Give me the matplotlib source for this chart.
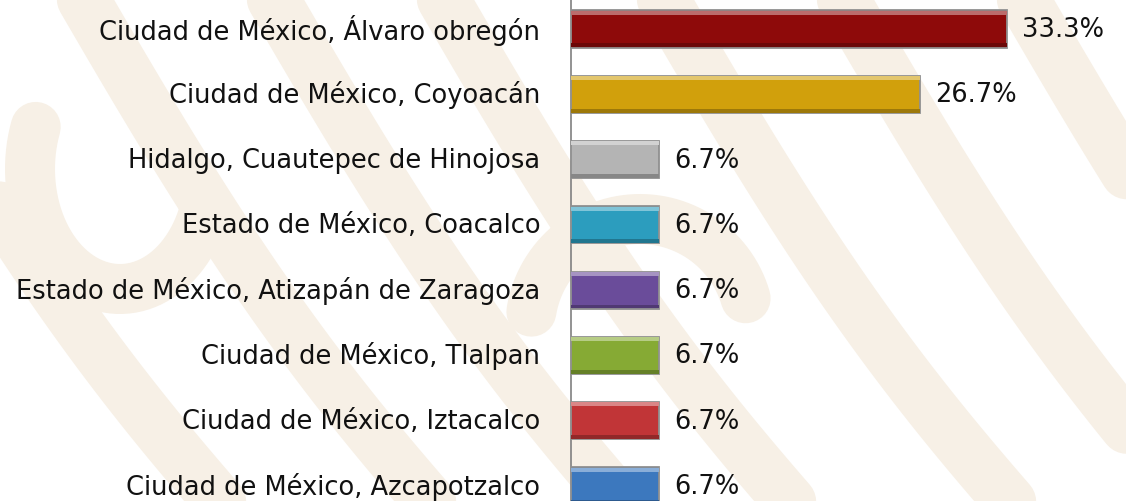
import matplotlib.pyplot as plt
import matplotlib.colors as mcolors
import matplotlib.transforms as mtransforms
import numpy as np

labels = [
    "Ciudad de México, Álvaro obregón",
    "Ciudad de México, Coyoacán",
    "Hidalgo, Cuautepec de Hinojosa",
    "Estado de México, Coacalco",
    "Estado de México, Atizapán de Zaragoza",
    "Ciudad de México, Tlalpan",
    "Ciudad de México, Iztacalco",
    "Ciudad de México, Azcapotzalco",
]
values = [33.3, 26.7, 6.7, 6.7, 6.7, 6.7, 6.7, 6.7]
colors = ["#8E0A0A", "#D1A00C", "#B4B4B4", "#2C9DBE",
          "#6A4C9A", "#86AA34", "#C13537", "#3C78BE"]

plt.rcParams['font.family'] = ['DejaVu Sans']

fig = plt.figure(figsize=(11.26, 5.02), dpi=100)

# faint decorative background
bg = fig.add_axes([0, 0, 1, 1], zorder=0)
bg.set_xlim(0, 1126)
bg.set_ylim(502, 0)
bg.axis("off")
band = "#F7F0E6"
t = np.linspace(0, 1, 50)
for x0 in [-150, 60, 250, 420, 640, 820, 1000]:
    xs = x0 + 420 * t
    ys = -40 + 600 * t + 40 * np.sin(t * np.pi)
    bg.plot(xs, ys, color=band, lw=38, solid_capstyle="round")
bg.plot(120 + 90 * np.cos(np.linspace(0.3, 3.5, 60)),
        170 + 120 * np.sin(np.linspace(0.3, 3.5, 60)),
        color=band, lw=36, solid_capstyle="round")
bg.plot(640 + 110 * np.cos(np.linspace(3.3, 6.0, 60)),
        330 + 110 * np.sin(np.linspace(3.3, 6.0, 60)),
        color=band, lw=36, solid_capstyle="round")

ax = fig.add_axes([571 / 1126, 0, 555 / 1126, 1], zorder=1)
ax.patch.set_alpha(0)
y = np.arange(len(values))
h = 0.57

dark = [tuple(np.array(mcolors.to_rgb(c)) * 0.75) for c in colors]
light = [tuple(1 - (1 - np.array(mcolors.to_rgb(c))) * 0.6) for c in colors]

ax.barh(y, values, height=h, color=colors, edgecolor="#909090", linewidth=1.3, zorder=3)
# thin top highlight and bottom shade for the bevel look
ax.barh(y - h / 2 + 0.035, values, height=0.06, color=light, linewidth=0, zorder=4)
ax.barh(y + h / 2 - 0.035, values, height=0.06, color=dark, linewidth=0, zorder=4)

for yi, v in zip(y, values):
    ax.text(v + 1.15, yi, f"{v:.1f}%", va="center", ha="left", fontsize=18.5, color="#111111")

ax.set_xlim(0, 42.4)
ax.set_ylim(7.23, -0.46)
ax.set_yticks(y)
ax.set_yticklabels(labels, fontsize=18.5, color="#111111")
ax.tick_params(axis="y", length=0, pad=22)
ax.set_xticks([])
for s in ["top", "right", "bottom"]:
    ax.spines[s].set_visible(False)
ax.spines["left"].set_color("#808080")
ax.spines["left"].set_linewidth(1.2)

# nudge category labels up a little
shift = mtransforms.ScaledTranslation(0, 3 / 100, fig.dpi_scale_trans)
for lbl in ax.get_yticklabels():
    lbl.set_transform(lbl.get_transform() + shift)

fig.savefig("out.png", dpi=100)
